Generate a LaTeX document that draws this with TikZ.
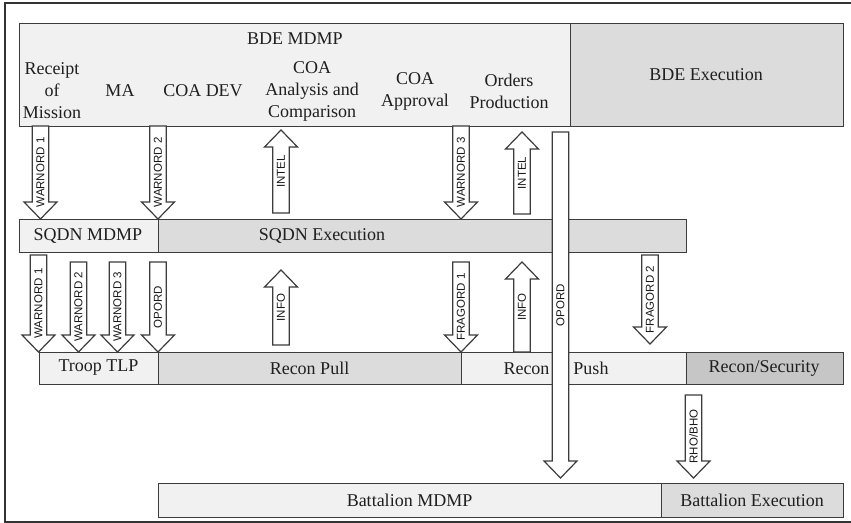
\documentclass[tikz,border=0pt]{standalone}
\usepackage{fontspec}
\setmainfont{Liberation Serif}
\newfontfamily\arialf{Liberation Sans}
\definecolor{lightf}{HTML}{F1F1F1}
\definecolor{midf}{HTML}{DCDCDC}
\definecolor{darkf}{HTML}{C6C6C6}
\definecolor{edge}{HTML}{3C3C3C}
\newcommand\blkdown[5]{% name, x, ystart, ytip, label
  \draw[barrow] ({#2-8.25},#3) -- ({#2+8.25},#3) -- ({#2+8.25},{#4-17}) -- ({#2+16.5},{#4-17}) -- (#2,#4) -- ({#2-16.5},{#4-17}) -- ({#2-8.25},{#4-17}) -- cycle;
  \node[alabel] (#1) at (#2,{(#3+#4)/2}) {#5};}
\newcommand\blkup[5]{% name, x, ybottom, ytip, label
  \draw[barrow] ({#2-8.25},#3) -- ({#2+8.25},#3) -- ({#2+8.25},{#4+17}) -- ({#2+16.5},{#4+17}) -- (#2,#4) -- ({#2-16.5},{#4+17}) -- ({#2-8.25},{#4+17}) -- cycle;
  \node[alabel] (#1) at (#2,{(#3+#4)/2}) {#5};}
\begin{document}
\begin{tikzpicture}[x=1pt,y=-1pt,
  box/.style={draw=edge, line width=1.3pt, anchor=north west, inner sep=0pt},
  barrow/.style={draw=edge, line width=1.2pt, fill=white, line join=miter},
  alabel/.style={rotate=90, font=\arialf\fontsize{11.5}{13}\selectfont, inner sep=0pt, text=black!90},
  txt/.style={font=\fontsize{18}{22}\selectfont, align=center, text=black!88, inner sep=0pt}]
\useasboundingbox (0,0) rectangle (851,522);
% outer frame
\draw[line width=2pt, black!80] (852,3) -- (5,3) -- (5,521.5) -- (852,521.5);
% BDE row
\node[box, fill=lightf, minimum width=551pt, minimum height=103.3pt] (bdemdmp) at (19,22.7) {};
\node[box, fill=midf, minimum width=273pt, minimum height=103.3pt] (bdeexec) at (570,22.7) {};
\node[txt] (t1) at (295,39) {BDE MDMP};
\node[txt] (t2) at (52,91) {Receipt\\of\\Mission};
\node[txt] (t3) at (120,91) {MA};
\node[txt] (t4) at (203,91) {COA DEV};
\node[txt] (t5) at (312,91) {COA\\Analysis and\\Comparison};
\node[txt] (t6) at (415,91) {COA\\Approval};
\node[txt] (t7) at (509,91) {Orders\\Production};
\node[txt] (t8) at (706,74.5) {BDE Execution};
% SQDN row
\node[box, fill=lightf, minimum width=139pt, minimum height=33pt] (sqmdmp) at (19,219) {};
\node[box, fill=midf, minimum width=528pt, minimum height=33pt] (sqexec) at (158,219) {};
\node[txt] (t9) at (88,235.5) {SQDN MDMP};
\node[txt] (t10) at (322,235.5) {SQDN Execution};
% Troop row
\node[box, fill=lightf, minimum width=119pt, minimum height=32pt] (tlp) at (39,352) {};
\node[box, fill=midf, minimum width=303pt, minimum height=32pt] (pull) at (158,352) {};
\node[box, fill=lightf, minimum width=225pt, minimum height=32pt] (push) at (461,352) {};
\node[box, fill=darkf, minimum width=157pt, minimum height=32pt] (recsec) at (686,352) {};
\node[txt] (t11) at (98.5,368) {Troop TLP};
\node[txt] (t12) at (309.5,368) {Recon Pull};
\node[txt] (t13) at (556,368) {Recon\hspace{24pt}Push};
\node[txt] (t14) at (764,368) {Recon/Security};
% Battalion row
\node[box, fill=lightf, minimum width=503pt, minimum height=34pt] (batmdmp) at (158,483) {};
\node[box, fill=midf, minimum width=182pt, minimum height=34pt] (batexec) at (661,483) {};
\node[txt] (t15) at (409.5,500) {Battalion MDMP};
\node[txt] (t16) at (752,500) {Battalion Execution};
% arrows BDE -> SQDN
\blkdown{a1}{40.5}{126}{219}{WARNORD 1}
\blkdown{a2}{158}{126}{219}{WARNORD 2}
\blkup{a3}{281}{213}{130}{INTEL}
\blkdown{a4}{461}{126}{219}{WARNORD 3}
\blkup{a5}{522}{214}{132}{INTEL}
% arrows SQDN -> Troop
\blkdown{b1}{38.5}{255}{352}{WARNORD 1}
\blkdown{b2}{78.5}{262}{352}{WARNORD 2}
\blkdown{b3}{117.5}{262}{352}{WARNORD 3}
\blkdown{b4}{158}{262}{352}{OPORD}
\blkup{b5}{281}{345}{270}{INFO}
\blkdown{b6}{461}{262}{352}{FRAGORD 1}
\blkup{b7}{522}{352}{262}{INFO}
\blkdown{b8}{650}{255}{344}{FRAGORD 2}
% long OPORD and RHO/BHO
\blkdown{c1}{560.5}{132}{478}{OPORD}
\blkdown{c2}{693.5}{395}{478}{RHO/BHO}
\end{tikzpicture}
\end{document}
